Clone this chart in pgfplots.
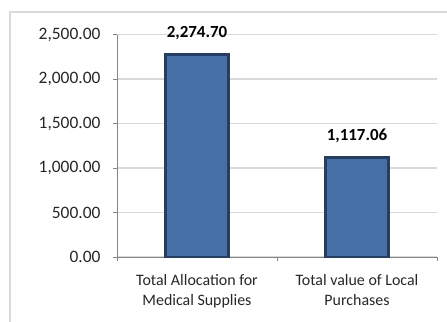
\documentclass[border=0pt]{standalone}
\usepackage{fontspec}
\setmainfont{Carlito}
\usepackage{pgfplots}
\pgfplotsset{compat=1.18}
\definecolor{barblue}{RGB}{70,112,166}
\definecolor{baredge}{RGB}{38,62,98}
\definecolor{gridgray}{RGB}{217,217,217}
\definecolor{axisgray}{RGB}{134,134,134}
\definecolor{txt}{RGB}{38,38,38}
\begin{document}
\begin{tikzpicture}
\useasboundingbox (0,0) rectangle (447bp,-322bp);
% chart frame
\draw[gridgray, line width=1.5bp] (10bp,-322bp) -- (10bp,-12bp) -- (447bp,-12bp);
\begin{axis}[
  at={(117bp,-257bp)}, anchor=south west,
  scale only axis, width=320bp, height=222.5bp,
  ymin=0, ymax=2500, ytick distance=500,
  xmin=-0.5, xmax=1.5,
  xtick={-0.5,0.5,1.5}, xticklabels={},
  extra x ticks={0,1},
  extra x tick labels={{Total Allocation for\\Medical Supplies},{Total value of Local\\Purchases}},
  extra x tick style={major tick length=0pt, grid=none},
  axis x line*=bottom, axis y line*=left,
  axis line style={-, draw=axisgray, line width=1bp},
  tick align=outside, major tick length=4bp,
  tick style={draw=axisgray, line width=1bp},
  ymajorgrids, grid style={draw=gridgray, line width=1.2bp},
  /pgf/number format/assume math mode=true,
  /pgf/number format/fixed,
  /pgf/number format/fixed zerofill,
  /pgf/number format/precision=2,
  /pgf/number format/1000 sep={,},
  ticklabel style={text=txt},
  yticklabel style={font=\fontsize{17.5}{20}\selectfont, xshift=-9bp},
  xticklabel style={font=\fontsize{16}{20}\selectfont, align=center, yshift=-14bp},
  ybar, bar width=63bp,
  nodes near coords,
  every node near coord/.append style={font=\bfseries\fontsize{17}{20}\selectfont, text=black, yshift=10bp},
]
\addplot[fill=barblue, draw=baredge, line width=2.5bp] coordinates {(0,2274.70) (1,1117.06)};
\end{axis}
\end{tikzpicture}
\end{document}
